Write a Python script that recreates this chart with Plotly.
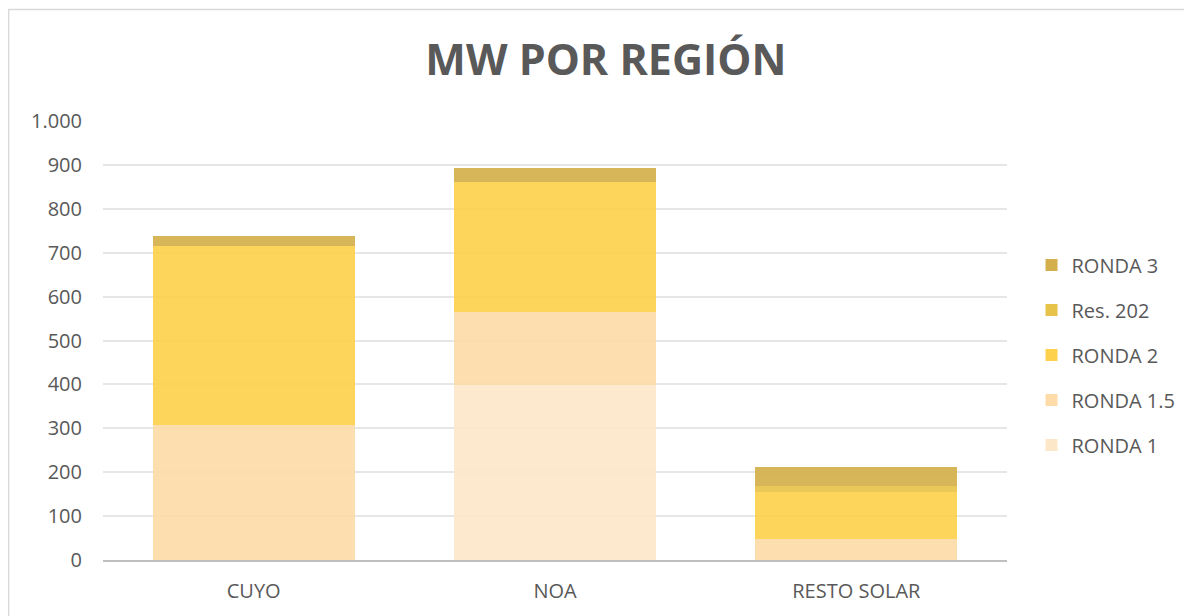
import plotly.graph_objects as go

categories = ["CUYO", "NOA", "RESTO SOLAR"]
series_names = ["RONDA 1", "RONDA 1.5", "RONDA 2", "Res. 202", "RONDA 3"]
ronda1 = [0, 399, 0]
ronda15 = [307, 166, 48]
ronda2 = [409, 296, 108]
res202 = [0, 0, 12]
ronda3 = [21, 31, 44]
values = [ronda1, ronda15, ronda2, res202, ronda3]
colors = ["#FDE7C9", "#FDDCA8", "#FED14D", "#E8C34A", "#D4B04C"]
tick_vals = [0, 100, 200, 300, 400, 500, 600, 700, 800, 900, 1000]
tick_text = ["0", "100", "200", "300", "400", "500", "600", "700", "800", "900", "1.000"]

fig = go.Figure()
n = len(series_names)
for i, (name, vals, col) in enumerate(zip(series_names, values, colors)):
    fig.add_trace(go.Bar(
        x=categories, y=vals, name=name, legendgroup=name, legendrank=n - i,
        marker=dict(color=col, opacity=0.92, line=dict(width=0)),
    ))

fig.update_layout(
    barmode="stack",
    bargap=0.33,
    width=1184, height=608,
    margin=dict(l=95, r=184, t=113, b=56),
    paper_bgcolor="white", plot_bgcolor="white",
    font=dict(family="Open Sans, Liberation Sans, sans-serif", color="#595959", size=20),
    title=dict(text="<b>MW POR REGIÓN</b>", x=0.505, xanchor="center", y=0.914, yanchor="middle",
               font=dict(size=43, color="#595959", family="Open Sans, sans-serif")),
    legend=dict(x=1.026, y=0.467, xanchor="left", yanchor="middle",
                traceorder="grouped", tracegroupgap=16,
                font=dict(size=20, color="#595959"), itemwidth=30),
    yaxis=dict(range=[0, 1000], tickvals=tick_vals, ticktext=tick_text,
               showgrid=True, gridcolor="#E6E6E6", gridwidth=1.5,
               zeroline=False, showline=False, ticks="", ticklabelstandoff=20,
               tickfont=dict(size=20, color="#595959")),
    xaxis=dict(showline=True, linecolor="#BFBFBF", linewidth=1.5, ticks="",
               ticklabelstandoff=12, tickfont=dict(size=20, color="#595959")),
    shapes=[dict(type="rect", xref="paper", yref="paper",
                 x0=-0.1044, x1=1.4, y0=-0.3, y1=1.254,
                 line=dict(color="#D9D9D9", width=1.5), layer="below")],
)

fig.write_html("out.html")
